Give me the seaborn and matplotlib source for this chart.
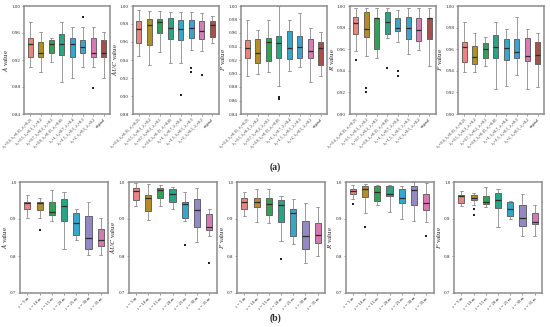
import numpy as np
import pandas as pd
import matplotlib
matplotlib.use("Agg")
import matplotlib.pyplot as plt
import seaborn as sns

# ---- (a) lambda settings, 8 boxes: [low whisker, q1, median, q3, high whisker]
lam_labels = ["λ₁=0.4, λ₂=0.35, λ₃=0.25", "λ₁=0.5, λ₂=0.3, λ₃=0.2", "λ₁=0.7, λ₂=0.2, λ₃=0.1",
              "λ₁=0.8, λ₂=0.15, λ₃=0.05", "λ₁=1, λ₂=0.7, λ₃=0.4", "λ₁=1.5, λ₂=0.5, λ₃=0.3",
              "λ₁=2, λ₂=0.5, λ₃=0.2", "original"]
lam_colors = ["#F8766D", "#C99A0E", "#22B24B", "#17B890", "#19B6E6", "#28A9E6", "#E96BBB", "#B3433C"]

A_a = [[0.909, 0.924, 0.944, 0.953, 0.976], [0.902, 0.924, 0.931, 0.946, 0.961],
       [0.917, 0.931, 0.943, 0.949, 0.953], [0.887, 0.927, 0.943, 0.958, 0.976],
       [0.894, 0.924, 0.944, 0.953, 0.969], [0.909, 0.931, 0.939, 0.949, 0.969],
       [0.909, 0.924, 0.931, 0.953, 0.969], [0.894, 0.924, 0.931, 0.949, 0.961]]
A_a_out = [[], [], [], [], [], [0.984], [0.879], []]

AUC_a = [[0.944, 0.959, 0.975, 0.983, 0.996], [0.934, 0.957, 0.979, 0.986, 0.995],
         [0.949, 0.970, 0.982, 0.986, 0.994], [0.937, 0.963, 0.976, 0.987, 0.993],
         [0.937, 0.962, 0.974, 0.984, 0.993], [0.951, 0.964, 0.976, 0.985, 0.993],
         [0.950, 0.963, 0.972, 0.983, 0.992], [0.959, 0.966, 0.979, 0.983, 0.989]]
AUC_a_out = [[], [], [], [], [0.901], [0.931, 0.927], [0.923], []]

P_a = [[0.897, 0.923, 0.938, 0.949, 0.980], [0.900, 0.916, 0.931, 0.951, 0.965],
       [0.902, 0.918, 0.947, 0.953, 0.980], [0.882, 0.923, 0.945, 0.956, 1.000],
       [0.904, 0.922, 0.938, 0.963, 0.979], [0.910, 0.923, 0.939, 0.955, 0.990],
       [0.887, 0.923, 0.933, 0.951, 0.968], [0.896, 0.913, 0.938, 0.947, 0.961]]
P_a_out = [[], [], [], [0.865, 0.862], [], [], [], []]

R_a = [[0.958, 0.974, 0.984, 0.990, 0.998], [0.954, 0.971, 0.979, 0.994, 0.998],
       [0.952, 0.960, 0.989, 0.989, 0.998], [0.970, 0.974, 0.985, 0.994, 0.998],
       [0.967, 0.977, 0.980, 0.989, 0.996], [0.956, 0.969, 0.980, 0.990, 0.998],
       [0.959, 0.968, 0.978, 0.989, 0.998], [0.944, 0.969, 0.989, 0.989, 0.998]]
R_a_out = [[0.950], [0.924, 0.920], [], [0.943], [0.940, 0.935], [], [], []]

F_a = [[0.939, 0.948, 0.962, 0.967, 0.985], [0.939, 0.946, 0.953, 0.963, 0.975],
       [0.944, 0.952, 0.960, 0.966, 0.971], [0.923, 0.952, 0.962, 0.973, 0.985],
       [0.926, 0.950, 0.961, 0.969, 0.979], [0.936, 0.952, 0.957, 0.969, 0.990],
       [0.923, 0.949, 0.954, 0.970, 0.979], [0.925, 0.946, 0.955, 0.967, 0.975]]
F_a_out = [[], [], [], [], [], [], [], []]

# ---- (b) epsilon settings, 7 boxes
eps_labels = ["ε = 5 m", "ε = 10 m", "ε = 15 m", "ε = 20 m", "ε = 25 m", "ε = 30 m", "ε = 35 m"]
eps_colors = ["#F8766D", "#C99A0E", "#22B24B", "#17B890", "#19B6E6", "#8D80CB", "#E46AB6"]

A_b = [[0.902, 0.927, 0.943, 0.947, 0.966], [0.902, 0.925, 0.943, 0.947, 0.956],
       [0.895, 0.911, 0.918, 0.947, 0.979], [0.818, 0.895, 0.934, 0.955, 0.972],
       [0.843, 0.857, 0.888, 0.917, 0.927], [0.804, 0.819, 0.848, 0.909, 0.947],
       [0.804, 0.827, 0.843, 0.872, 0.902]]
A_b_out = [[], [0.870], [], [], [], [], []]

AUC_b = [[0.936, 0.952, 0.977, 0.984, 0.997], [0.898, 0.922, 0.956, 0.966, 0.995],
         [0.934, 0.958, 0.979, 0.984, 0.993], [0.927, 0.946, 0.967, 0.981, 0.986],
         [0.895, 0.902, 0.940, 0.947, 0.973], [0.837, 0.879, 0.923, 0.954, 0.985],
         [0.855, 0.870, 0.879, 0.913, 0.927]]
AUC_b_out = [[], [], [], [], [0.830], [], [0.782]]

P_b = [[0.908, 0.927, 0.947, 0.956, 0.972], [0.893, 0.932, 0.947, 0.956, 0.981],
       [0.888, 0.911, 0.940, 0.956, 0.981], [0.840, 0.893, 0.938, 0.952, 0.961],
       [0.832, 0.855, 0.916, 0.927, 0.954], [0.780, 0.819, 0.855, 0.895, 0.943],
       [0.801, 0.834, 0.857, 0.890, 0.932]]
P_b_out = [[], [], [], [0.791], [], [], []]

R_b = [[0.954, 0.968, 0.975, 0.981, 0.993], [0.916, 0.959, 0.981, 0.990, 0.995],
       [0.937, 0.949, 0.973, 0.990, 0.993], [0.918, 0.961, 0.968, 0.990, 0.993],
       [0.900, 0.943, 0.956, 0.981, 0.990], [0.895, 0.938, 0.979, 0.990, 0.999],
       [0.893, 0.925, 0.943, 0.968, 0.997]]
R_b_out = [[0.940], [0.879], [], [], [], [], [0.854]]

F_b = [[0.934, 0.943, 0.961, 0.966, 0.977], [0.937, 0.952, 0.956, 0.966, 0.970],
       [0.932, 0.940, 0.946, 0.963, 0.986], [0.878, 0.929, 0.952, 0.970, 0.981],
       [0.900, 0.909, 0.927, 0.946, 0.950], [0.855, 0.882, 0.902, 0.938, 0.967],
       [0.855, 0.887, 0.891, 0.917, 0.937]]
F_b_out = [[], [0.927, 0.911], [], [], [], [], []]

top = [("A", A_a, A_a_out, (0.84, 1.00), 0.04),
       ("AUC", AUC_a, AUC_a_out, (0.88, 1.00), 0.02),
       ("P", P_a, P_a_out, (0.84, 1.00), 0.02),
       ("R", R_a, R_a_out, (0.90, 1.00), 0.02),
       ("F", F_a, F_a_out, (0.90, 1.00), 0.02)]
bottom = [("A", A_b, A_b_out), ("AUC", AUC_b, AUC_b_out), ("P", P_b, P_b_out),
          ("R", R_b, R_b_out), ("F", F_b, F_b_out)]

sns.set_style("ticks")
plt.rcParams["font.family"] = ["Liberation Serif", "DejaVu Serif"]
plt.rcParams["mathtext.fontset"] = "stix"

W, H = 550, 327
fig = plt.figure(figsize=(W / 100, H / 100), dpi=100)


def draw(ax, name, stats, outs, labels, colors, ylim, step, fmt, xfs):
    df = pd.DataFrame([(lab, v) for lab, s in zip(labels, stats) for v in s], columns=["g", "v"])
    sns.boxplot(data=df, x="g", y="v", hue="g", order=labels, hue_order=labels,
                palette=colors, legend=False, whis=(0, 100), showfliers=False,
                width=0.5, linewidth=0.6, linecolor="#555555", ax=ax,
                whiskerprops={"color": "#8a8a8a"}, capprops={"color": "#8a8a8a"},
                medianprops={"color": "#2b2b2b", "linewidth": 0.9})
    of = pd.DataFrame([(lab, v) for lab, o in zip(labels, outs) for v in o], columns=["g", "v"])
    if len(of):
        sns.stripplot(data=of, x="g", y="v", order=labels, jitter=False, color="#222222",
                      size=1.6, marker="s", ax=ax)
    ax.set_ylim(*ylim)
    ax.set_yticks(np.arange(ylim[0], ylim[1] + 1e-9, step))
    ax.yaxis.set_major_formatter(plt.FormatStrFormatter(fmt))
    ax.set_xlim(-0.6, len(labels) - 0.4)
    ax.set_xlabel("")
    ax.set_ylabel(r"$\mathit{" + name + r"}$ value", fontsize=5, labelpad=1)
    ax.set_xticks(range(len(labels)))
    ax.set_xticklabels(labels, rotation=45, ha="right", rotation_mode="anchor", fontsize=xfs)
    ax.tick_params(axis="y", labelsize=3.6, length=1.5, width=0.5, pad=1, color="#777777")
    ax.tick_params(axis="x", length=1.5, width=0.5, pad=1, color="#777777")
    for sp in ax.spines.values():
        sp.set_visible(True)
        sp.set_color("#8c8c8c")
        sp.set_linewidth(1.1)


for i, (name, stats, outs, ylim, step) in enumerate(top):
    x0 = 24 + 108.5 * i
    ax = fig.add_axes([x0 / W, (H - 114) / H, 86 / W, 108 / H])
    draw(ax, name, stats, outs, lam_labels, lam_colors, ylim, step, "%.2f", 2.9)

for i, (name, stats, outs) in enumerate(bottom):
    x0 = 20 + 108.5 * i
    ax = fig.add_axes([x0 / W, (H - 293) / H, 88 / W, 111 / H])
    draw(ax, name, stats, outs, eps_labels, eps_colors, (0.7, 1.0), 0.1, "%.1f", 3.2)

fig.text(0.5, 1 - 167 / H, "(a)", ha="center", va="center", fontsize=7, fontweight="bold")
fig.text(0.5, 1 - 318 / H, "(b)", ha="center", va="center", fontsize=7, fontweight="bold")

fig.savefig("out.png", dpi=100, facecolor="white")
